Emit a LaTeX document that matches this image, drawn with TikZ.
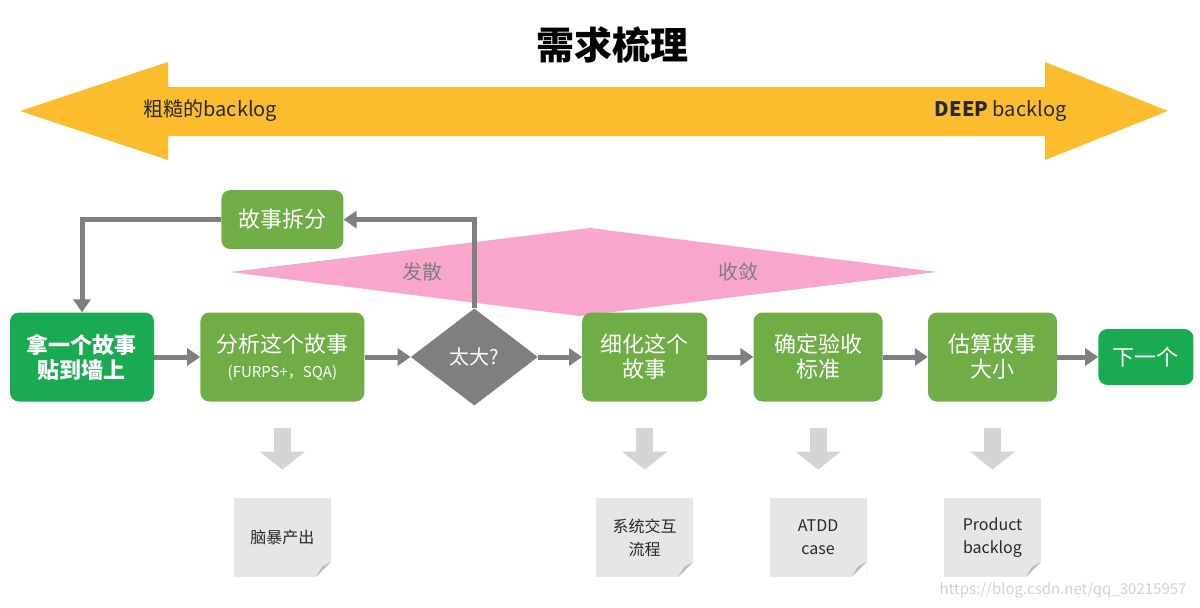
\documentclass[tikz,border=0pt]{standalone}
\usepackage{fontspec}
\setmainfont{Noto Sans CJK SC}
\usepackage{xcolor}
\usetikzlibrary{positioning, shapes.geometric, arrows.meta}

\definecolor{bandyellow}{RGB}{251,189,46}
\definecolor{leafgreen}{RGB}{112,173,71}
\definecolor{deepgreen}{RGB}{26,170,82}
\definecolor{flowgray}{RGB}{127,127,127}
\definecolor{blush}{RGB}{248,166,203}
\definecolor{dropgray}{RGB}{212,212,212}
\definecolor{paperfill}{RGB}{230,230,232}
\definecolor{foldgray}{RGB}{185,185,187}
\definecolor{inkdark}{RGB}{40,40,40}

\tikzset{
  stepbox/.style={rectangle, rounded corners=9pt, fill=leafgreen, text=white,
    minimum height=89pt, inner sep=0pt, align=center,
    font=\fontsize{22}{25}\selectfont},
  keybox/.style={stepbox, fill=deepgreen},
  ask/.style={diamond, fill=flowgray, text=white, minimum width=127pt,
    minimum height=97pt, inner sep=0pt, font=\fontsize{20}{24}\selectfont},
  paper/.style={rectangle, fill=paperfill, minimum width=97pt, minimum height=79pt,
    inner sep=0pt, align=center, text=inkdark, font=\fontsize{16}{23}\selectfont,
    path picture={
      \fill[white] ([xshift=-15pt]path picture bounding box.south east)
        -- (path picture bounding box.south east)
        -- ([yshift=15pt]path picture bounding box.south east) -- cycle;
      \fill[foldgray] ([xshift=-15pt]path picture bounding box.south east)
        -- ([yshift=15pt]path picture bounding box.south east)
        -- ([xshift=-9pt,yshift=10pt]path picture bounding box.south east) -- cycle;
    }},
  flow/.style={draw=flowgray, line width=5pt, -{Triangle[length=13pt,width=17pt]}},
  fat/.style={draw=dropgray, line width=17pt, -{Triangle[length=18pt,width=44pt]},
    shorten <=26pt, shorten >=28pt},
  tag/.style={text=flowgray, font=\fontsize{20}{24}\selectfont},
}

\begin{document}
\begin{tikzpicture}[x=1pt, y=-1pt]
    \useasboundingbox (0,0) rectangle (1200,608);
    \fill[white] (0,0) rectangle (1200,608);
%
    \node[font=\bfseries\fontsize{38}{44}\selectfont] (title) at (612,45) {需求梳理};
    \fill[bandyellow] (20,111) -- (168,62) -- (168,87) -- (1045,87) -- (1045,62)
        -- (1168,111) -- (1045,160) -- (1045,136) -- (168,136) -- (168,160) -- cycle;
    \node[anchor=west, text=inkdark, font=\fontsize{20}{24}\selectfont] (rough) at (140,111) {粗糙的backlog};
    \node[anchor=east, text=inkdark, font=\fontsize{20}{24}\selectfont] (deep) at (1070,111) {\textbf{DEEP} backlog};
%
    \fill[blush] (230,272) -- (590,228) -- (937,272) -- (580,316) -- cycle;
    \node[tag] (diverge) at (422,272) {发散};
    \node[tag] (converge) at (738,272) {收敛};
%
    \node[keybox, minimum width=144pt, font=\bfseries\fontsize{22}{25}\selectfont] (grab) at (82,357) {拿一个故事\\贴到墙上};
    \node[stepbox, minimum width=164pt, right=46pt of grab] (ana) {分析这个故事\\{\fontsize{15}{18}\selectfont (FURPS+，SQA)}};
    \node[ask, right=46pt of ana] (big) {太大?};
    \node[stepbox, minimum width=125pt, right=44pt of big] (ref) {细化这个\\故事};
    \node[stepbox, minimum width=129pt, right=46pt of ref] (acc) {确定验收\\标准};
    \node[stepbox, minimum width=129pt, right=45pt of acc] (est) {估算故事\\大小};
    \node[keybox, minimum width=95pt, minimum height=56pt, right=41pt of est] (next) {下一个};
    \node[stepbox, minimum width=122pt, minimum height=59pt, above=63pt of ana] (split) {故事拆分};
%
    \node[paper, below=96pt of ana] (brain) {脑暴产出};
    \node[paper, below=96pt of ref] (inter) {系统交互\\流程};
    \node[paper, below=96pt of acc] (atdd) {ATDD\\case};
    \node[paper, below=96pt of est] (pbl) {Product\\backlog};
%
    \path
        (grab) edge[flow] (ana)
        (ana) edge[flow] (big)
        (big) edge[flow] (ref)
        (ref) edge[flow] (acc)
        (acc) edge[flow] (est)
        (est) edge[flow] (next);
    \draw[flow] (big) |- (split);
    \draw[flow] (split) -| (grab);
    \foreach \from/\to in {ana/brain, ref/inter, acc/atdd, est/pbl}
        \draw[fat] (\from) -- (\to);
%
    \node[anchor=east, text=black!18, font=\fontsize{15}{18}\selectfont] (mark) at (1190,590) {https://blog.csdn.net/qq\_30215957};
\end{tikzpicture}
\end{document}
